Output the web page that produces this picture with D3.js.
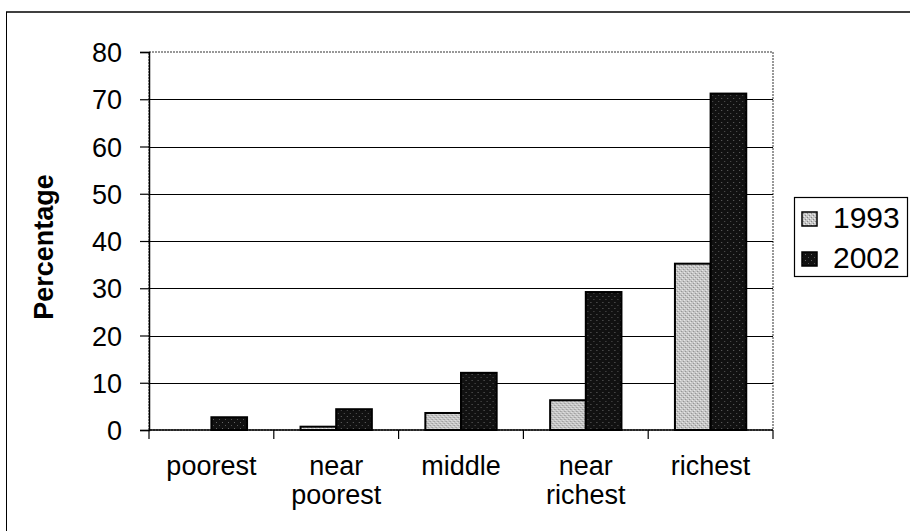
<!DOCTYPE html>
<html>
<head>
<meta charset="utf-8">
<script src="https://cdn.jsdelivr.net/npm/d3@7"></script>
<style>
  html, body { margin: 0; padding: 0; background: #fff; }
  svg { display: block; }
  text { font-family: "Liberation Sans", Arial, Helvetica, sans-serif; fill: #000; }
</style>
</head>
<body>
<svg id="chart" width="910" height="531"></svg>
<script>
// Share of households by wealth group, two survey years
const categories = ["poorest", "near poorest", "middle", "near richest", "richest"];
const categoryLines = [["poorest"], ["near", "poorest"], ["middle"], ["near", "richest"], ["richest"]];
const seriesNames = ["1993", "2002"];
const values1993 = [0, 0.7, 3.6, 6.3, 35.2];
const values2002 = [2.7, 4.4, 12.1, 29.2, 71.2];
const yTicks = [0, 10, 20, 30, 40, 50, 60, 70, 80];

const svg = d3.select("#chart");
const W = 910, H = 531;
const plot = { left: 149, right: 773, top: 52, bottom: 430 };
const FONT = 27;

// Dithered fills for the two series
const defs = svg.append("defs");
const p1 = defs.append("pattern").attr("id", "fill1993")
  .attr("width", 4).attr("height", 4).attr("patternUnits", "userSpaceOnUse");
p1.append("rect").attr("width", 4).attr("height", 4).attr("fill", "#c6c6c6");
p1.append("rect").attr("x", 0).attr("y", 0).attr("width", 1).attr("height", 1).attr("fill", "#ededed");
p1.append("rect").attr("x", 2).attr("y", 2).attr("width", 1).attr("height", 1).attr("fill", "#ededed");
p1.append("rect").attr("x", 1).attr("y", 3).attr("width", 1).attr("height", 1).attr("fill", "#8a8a8a");
p1.append("rect").attr("x", 3).attr("y", 1).attr("width", 1).attr("height", 1).attr("fill", "#8a8a8a");

const p2 = defs.append("pattern").attr("id", "fill2002")
  .attr("width", 6).attr("height", 6).attr("patternUnits", "userSpaceOnUse");
p2.append("rect").attr("width", 6).attr("height", 6).attr("fill", "#111");
p2.append("rect").attr("x", 1).attr("y", 2).attr("width", 1).attr("height", 1).attr("fill", "#666");
p2.append("rect").attr("x", 4).attr("y", 5).attr("width", 1).attr("height", 1).attr("fill", "#555");

const fills = ["url(#fill1993)", "url(#fill2002)"];

// Outer chart frame (top and left edges)
svg.append("line").attr("x1", 6).attr("x2", W).attr("y1", 12).attr("y2", 12)
  .attr("stroke", "#000").attr("stroke-width", 1.5);
svg.append("line").attr("x1", 6.5).attr("x2", 6.5).attr("y1", 12).attr("y2", H)
  .attr("stroke", "#000").attr("stroke-width", 1);

const x0 = d3.scaleBand().domain(categories).range([plot.left, plot.right]).paddingInner(0).paddingOuter(0);
const x1 = d3.scaleBand().domain(seriesNames).range([0, x0.bandwidth()]).paddingInner(0).paddingOuter(0.75);
const y = d3.scaleLinear().domain([0, 80]).range([plot.bottom, plot.top]);

// Plot area border (grey, dotted look)
svg.append("rect").attr("x", plot.left).attr("y", plot.top)
  .attr("width", plot.right - plot.left).attr("height", plot.bottom - plot.top)
  .attr("fill", "none").attr("stroke", "#777").attr("stroke-width", 1.5)
  .attr("stroke-dasharray", "2,1");

// Horizontal gridlines
svg.append("g").selectAll("line").data(yTicks.filter(d => d > 0 && d < 80)).join("line")
  .attr("x1", plot.left).attr("x2", plot.right)
  .attr("y1", d => Math.round(y(d)) + 0.5).attr("y2", d => Math.round(y(d)) + 0.5)
  .attr("stroke", "#000").attr("stroke-width", 1.2);

// Bars
const series = [values1993, values2002];
const groups = svg.append("g").selectAll("g").data(categories).join("g")
  .attr("transform", d => `translate(${x0(d)},0)`);
groups.selectAll("rect")
  .data((d, i) => seriesNames.map((s, k) => ({ s, k, v: series[k][i] })))
  .join("rect")
  .filter(d => d.v > 0)
  .attr("x", d => x1(d.s))
  .attr("y", d => y(d.v))
  .attr("width", x1.bandwidth())
  .attr("height", d => y(0) - y(d.v))
  .attr("fill", d => fills[d.k])
  .attr("stroke", "#000").attr("stroke-width", 2);

// Y axis
const yAxis = d3.axisLeft(y).tickValues(yTicks).tickSize(9).tickPadding(18).tickFormat(d3.format("d"));
const gy = svg.append("g").attr("transform", `translate(${plot.left},0)`).call(yAxis);
gy.select(".domain").attr("stroke", "#000").attr("stroke-width", 1.5);
gy.selectAll(".tick line").attr("stroke", "#000").attr("stroke-width", 1.2);
gy.selectAll(".tick text").attr("font-size", FONT).attr("dy", "0.36em");

// X axis baseline and category separators
svg.append("line").attr("x1", plot.left).attr("x2", plot.right)
  .attr("y1", plot.bottom).attr("y2", plot.bottom)
  .attr("stroke", "#000").attr("stroke-width", 1.5);
const sep = categories.map(c => x0(c)).concat([plot.right]);
svg.append("g").selectAll("line").data(sep).join("line")
  .attr("x1", d => d).attr("x2", d => d)
  .attr("y1", plot.bottom).attr("y2", plot.bottom + 9)
  .attr("stroke", "#000").attr("stroke-width", 1.2);

// Category labels
const xl = svg.append("g").selectAll("text").data(categories).join("text")
  .attr("x", d => x0(d) + x0.bandwidth() / 2)
  .attr("y", 475)
  .attr("text-anchor", "middle")
  .attr("font-size", FONT);
xl.selectAll("tspan").data((d, i) => categoryLines[i]).join("tspan")
  .attr("x", function () { return d3.select(this.parentNode).attr("x"); })
  .attr("dy", (d, i) => i === 0 ? 0 : 29)
  .text(d => d);

// Y axis title
svg.append("text")
  .attr("transform", `translate(53,${(plot.top + plot.bottom) / 2 + 6}) rotate(-90)`)
  .attr("text-anchor", "middle")
  .attr("font-size", FONT).attr("font-weight", "bold")
  .text("Percentage");

// Legend
const lg = svg.append("g");
lg.append("rect").attr("x", 794.5).attr("y", 197.5).attr("width", 113).attr("height", 79)
  .attr("fill", "#fff").attr("stroke", "#000").attr("stroke-width", 1.2);
seriesNames.forEach((s, k) => {
  const top = 212 + k * 40;
  lg.append("rect").attr("x", 802).attr("y", top).attr("width", 15).attr("height", 14)
    .attr("fill", fills[k]).attr("stroke", "#000").attr("stroke-width", 1.5);
  lg.append("text").attr("x", 833).attr("y", top + 16).attr("font-size", 30).text(s);
});
</script>
</body>
</html>
